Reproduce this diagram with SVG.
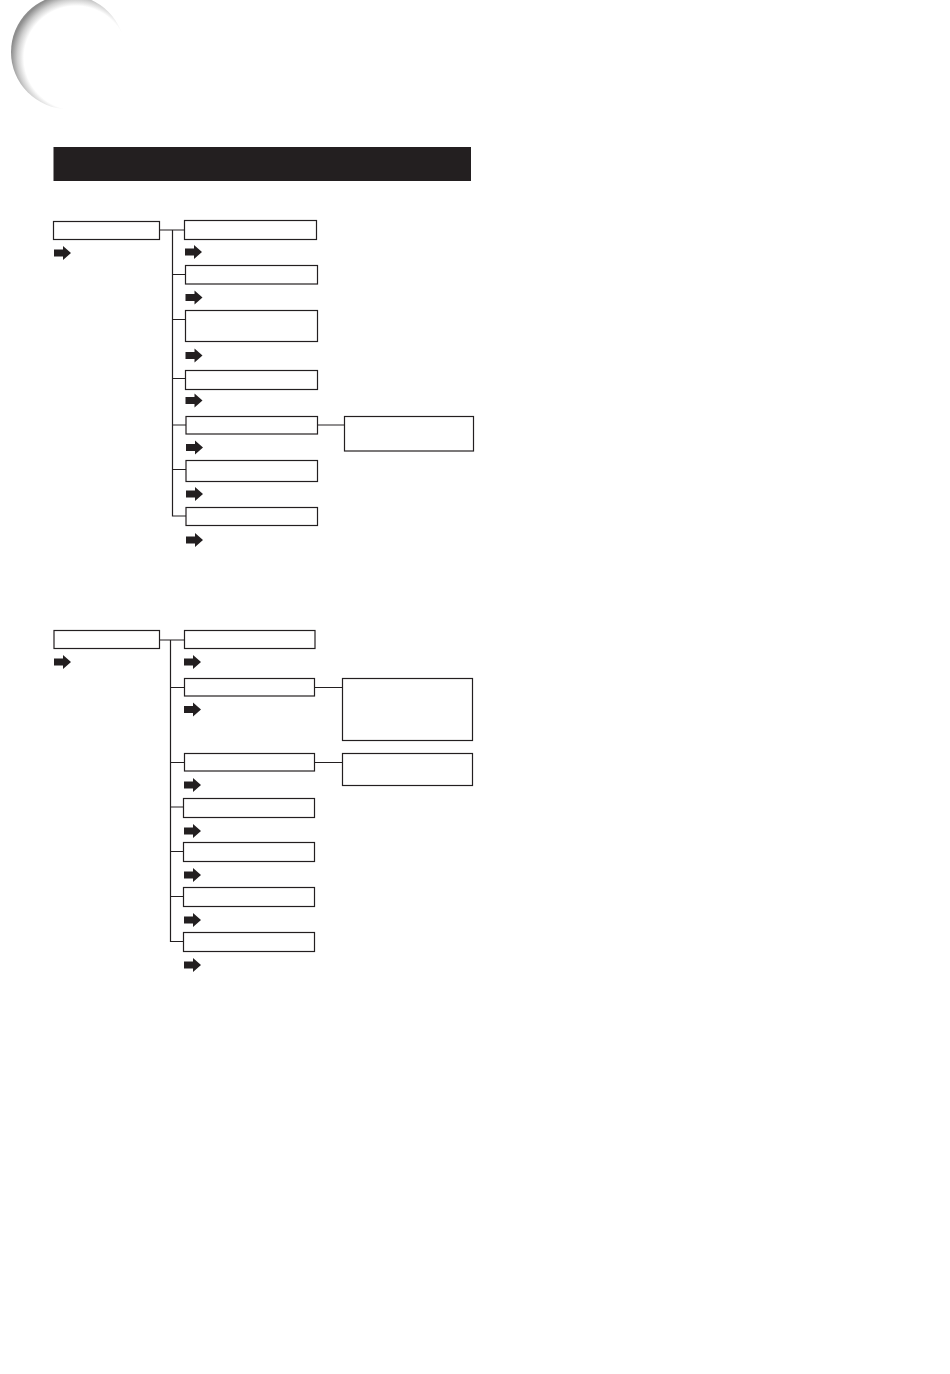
<svg xmlns="http://www.w3.org/2000/svg" width="950" height="1374" viewBox="0 0 950 1374">
<defs>
<style>
.box{fill:#fff;stroke:#231f20;stroke-width:1.2}
.ln{fill:none;stroke:#231f20;stroke-width:1.2}
.ar{fill:#231f20}
</style>
<radialGradient id="cg" gradientUnits="userSpaceOnUse" cx="76" cy="58" r="65">
<stop offset="0" stop-color="#fff"/>
<stop offset="0.8" stop-color="#fff"/>
<stop offset="0.9" stop-color="#cfcfcf"/>
<stop offset="1" stop-color="#8e8e8e"/>
</radialGradient>
<path id="arw" class="ar" d="M0,-3.5 H9 V-7 L17,0 L9,7 V3.5 H0 Z"/>
</defs>
<rect width="950" height="1374" fill="#fff"/>
<circle cx="68" cy="52" r="57" fill="url(#cg)"/>
<rect x="53.5" y="147" width="417.5" height="34" fill="#231f20"/>

<g id="connectors">
<path class="ln" d="M159.5,230 H184.5 M172.5,230 V516 H186 M172.5,274.5 H185.5 M172.5,319.5 H185.5 M172.5,378.5 H185.5 M172.5,425 H186 M172.5,469.5 H186 M317.5,425 H344.5"/>
<path class="ln" d="M159.5,640 H184.5 M170.5,640 V941.5 H183.5 M170.5,687.5 H184.5 M170.5,762.5 H184.5 M170.5,807 H183.5 M170.5,851.5 H183.5 M170.5,896.5 H183.5 M314.5,687.5 H342.5 M314.5,762.5 H342.5"/>
</g>

<g id="n1"><rect class="box" x="53.5" y="221.5" width="106" height="18"/><use href="#arw" x="54" y="253"/></g>
<g id="n1a"><rect class="box" x="184.5" y="220.5" width="132" height="19"/><use href="#arw" x="185" y="252"/></g>
<g id="n1b"><rect class="box" x="185.5" y="265.5" width="132" height="18.5"/><use href="#arw" x="185.5" y="297.5"/></g>
<g id="n1c"><rect class="box" x="185.5" y="310.5" width="132" height="31"/><use href="#arw" x="185.5" y="355.5"/></g>
<g id="n1d"><rect class="box" x="185.5" y="370.5" width="132" height="19"/><use href="#arw" x="185.5" y="400.5"/></g>
<g id="n1e"><rect class="box" x="186" y="416.5" width="131.5" height="17.5"/><use href="#arw" x="186" y="447.5"/></g>
<g id="n1e1"><rect class="box" x="344.5" y="416.5" width="129" height="34.5"/></g>
<g id="n1f"><rect class="box" x="186" y="460.5" width="131.5" height="21"/><use href="#arw" x="186" y="494"/></g>
<g id="n1g"><rect class="box" x="186" y="507.5" width="131.5" height="18"/><use href="#arw" x="186" y="540"/></g>

<g id="n2"><rect class="box" x="54" y="630.5" width="105.5" height="18"/><use href="#arw" x="54" y="662"/></g>
<g id="n2a"><rect class="box" x="184.5" y="630.5" width="130.5" height="18"/><use href="#arw" x="184" y="662"/></g>
<g id="n2b"><rect class="box" x="184.5" y="678.5" width="130" height="17.5"/><use href="#arw" x="184" y="709.5"/></g>
<g id="n2b1"><rect class="box" x="342.5" y="678.5" width="130" height="62"/></g>
<g id="n2c"><rect class="box" x="184.5" y="753.5" width="130" height="17.5"/><use href="#arw" x="184" y="785"/></g>
<g id="n2c1"><rect class="box" x="342.5" y="753.5" width="130" height="32"/></g>
<g id="n2d"><rect class="box" x="183.5" y="798.5" width="131" height="19"/><use href="#arw" x="184" y="831"/></g>
<g id="n2e"><rect class="box" x="183.5" y="842.5" width="131" height="19"/><use href="#arw" x="184" y="875"/></g>
<g id="n2f"><rect class="box" x="183.5" y="887.5" width="131" height="19"/><use href="#arw" x="184" y="920"/></g>
<g id="n2g"><rect class="box" x="183.5" y="932.5" width="131" height="19"/><use href="#arw" x="184" y="965"/></g>
</svg>
